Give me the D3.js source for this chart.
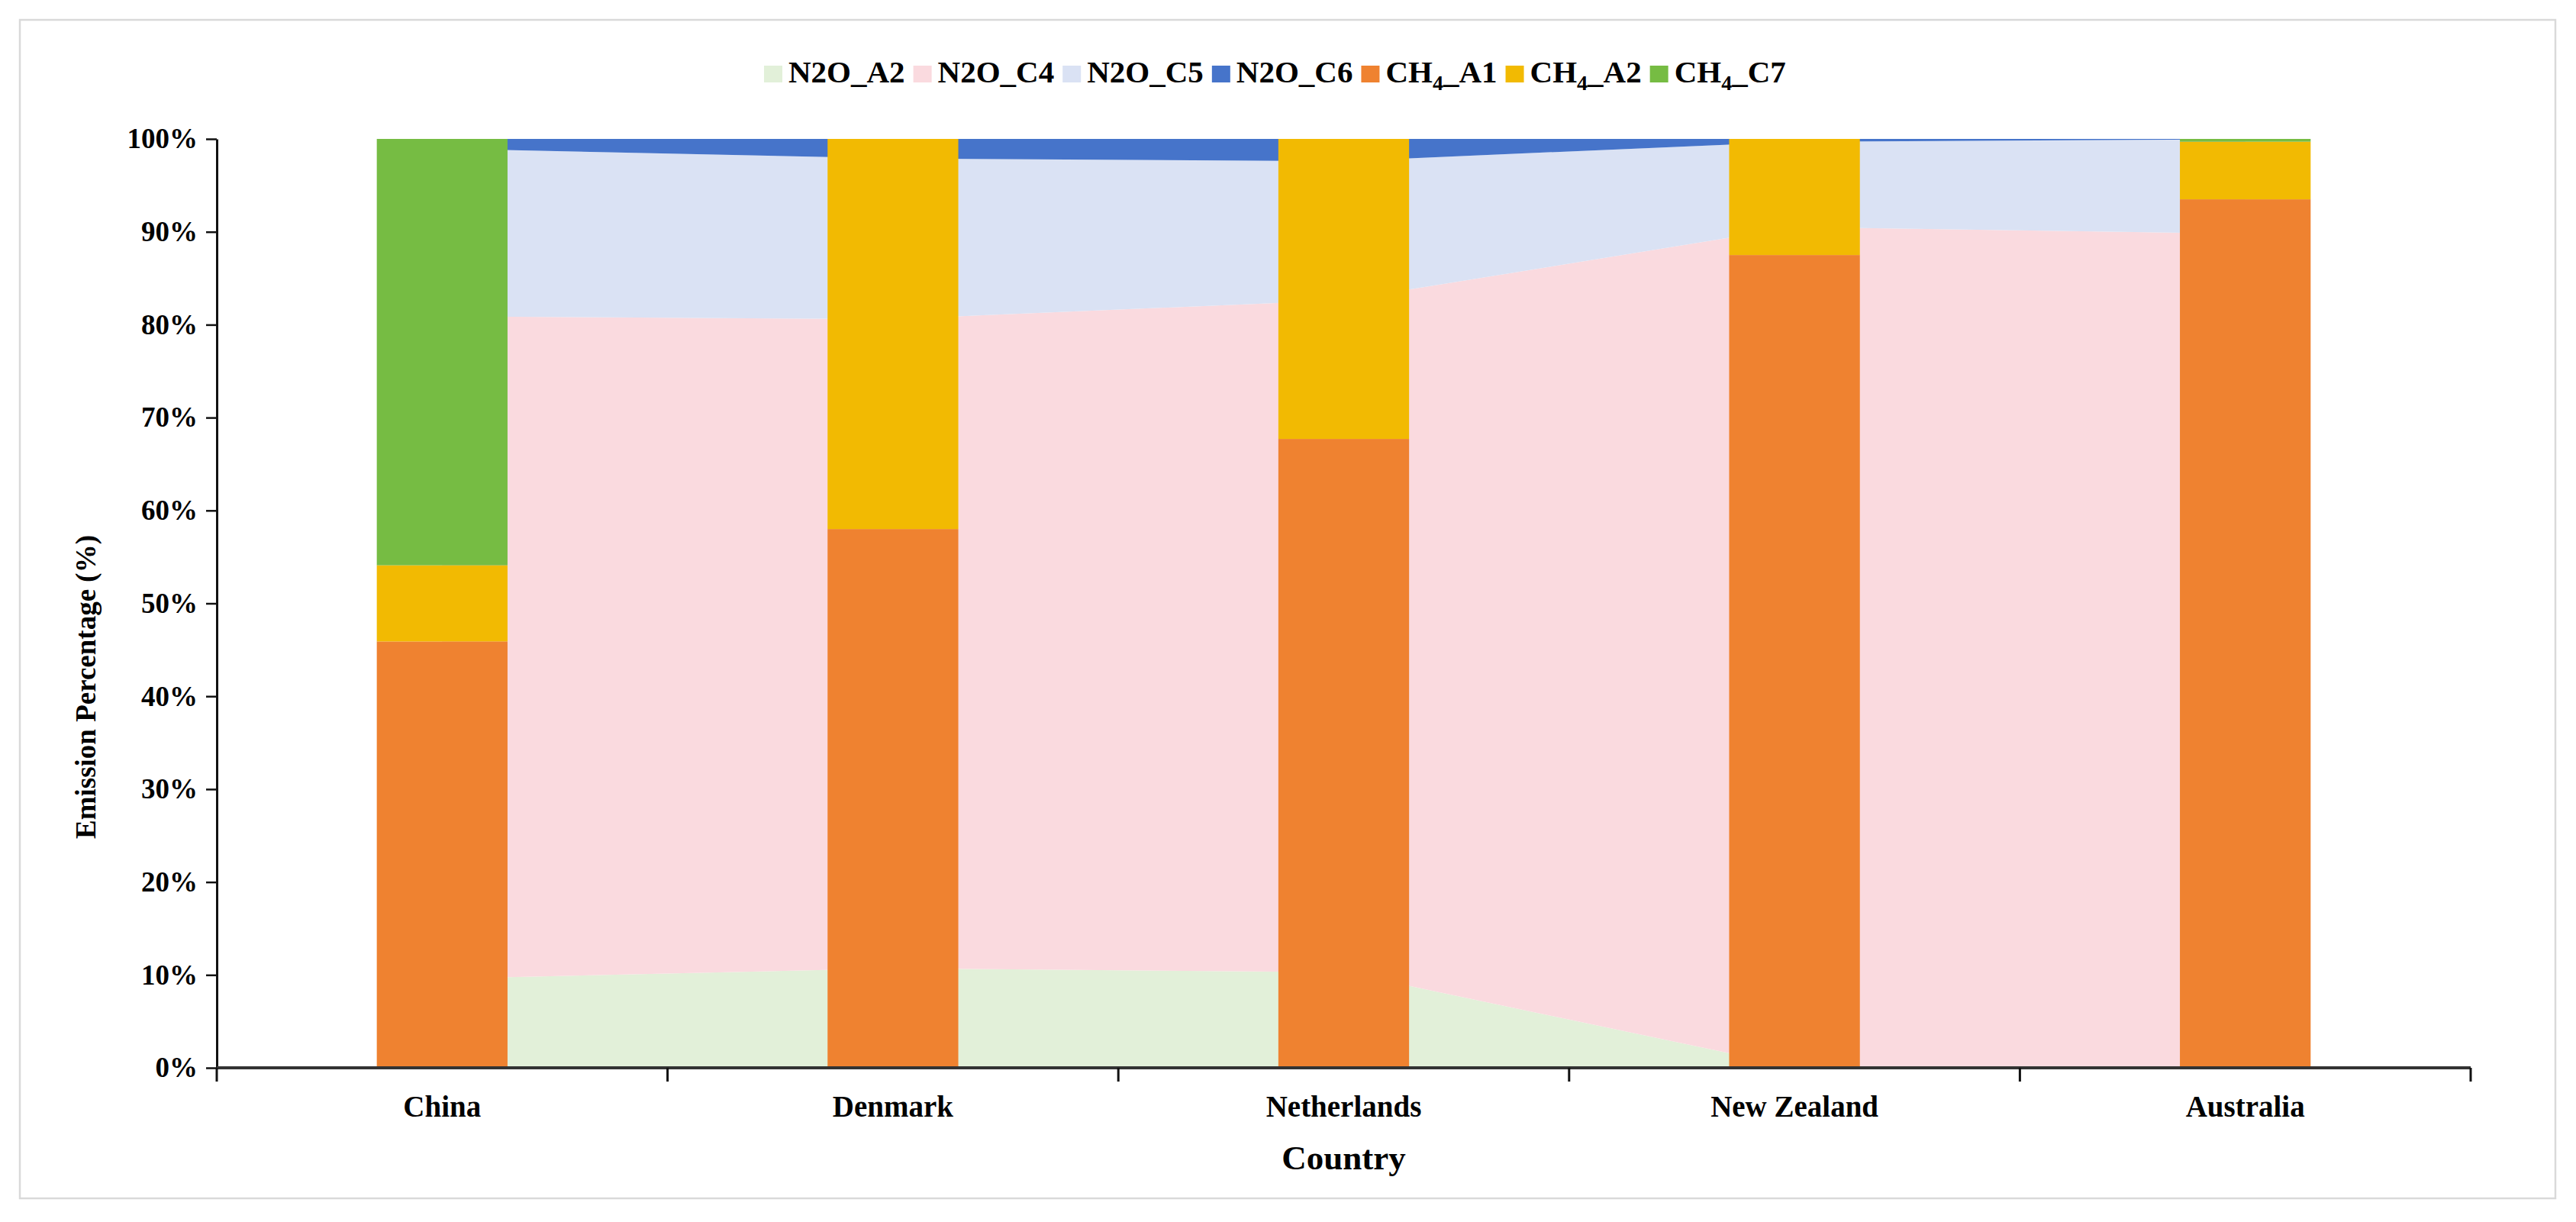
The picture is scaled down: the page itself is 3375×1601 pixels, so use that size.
<!DOCTYPE html>
<html>
<head>
<meta charset="utf-8">
<script src="https://cdn.jsdelivr.net/npm/d3@7"></script>
<style>
  body { margin: 0; background: #fff; }
  svg { display: block; }
  text { font-family: "Liberation Serif", "Times New Roman", serif; font-weight: bold; fill: #000; }
</style>
</head>
<body>
<svg id="chart"></svg>
<script>

// categories
var countries = ['China', 'Denmark', 'Netherlands', 'New Zealand', 'Australia'];

// N2O shares (area, percent of N2O)
var n2oA2 = [9.6, 10.7, 10.3, 0.1, 0];
var n2oC4 = [71.3, 69.9, 72.35, 90.4, 89.8];
var n2oC5 = [18.05, 17.3, 14.95, 9.2, 10.15];
var n2oC6 = [1.05, 2.1, 2.4, 0.3, 0.05];

// CH4 shares (stacked columns, percent of CH4)
var ch4A1 = [45.9, 58, 67.7, 87.5, 93.5];
var ch4A2 = [8.2, 42, 32.3, 12.5, 6.2];
var ch4C7 = [45.9, 0, 0, 0, 0.3];

var yTicks = [0, 10, 20, 30, 40, 50, 60, 70, 80, 90, 100];

var n2oKeys = ['N2O_A2', 'N2O_C4', 'N2O_C5', 'N2O_C6'];
var ch4Keys = ['CH4_A1', 'CH4_A2', 'CH4_C7'];

var colors = {
  'N2O_A2': '#E2F0D9',
  'N2O_C4': '#FADADF',
  'N2O_C5': '#DAE2F4',
  'N2O_C6': '#4674CA',
  'CH4_A1': '#EF8230',
  'CH4_A2': '#F2BA02',
  'CH4_C7': '#76BC43'
};

var width = 3375, height = 1601;
var plot = {l: 284, r: 3237, t: 182, b: 1399};

var svg = d3.select('#chart').attr('width', width).attr('height', height);

// outer frame
svg.append('rect')
  .attr('x', 26).attr('y', 26)
  .attr('width', 3322).attr('height', 1544)
  .attr('fill', 'none').attr('stroke', '#d9d9d9').attr('stroke-width', 2.5);

var x = d3.scaleBand().domain(countries).range([plot.l, plot.r]).paddingInner(0).paddingOuter(0);
var y = d3.scaleLinear().domain([0, 100]).range([plot.b, plot.t]);
var barW = x.bandwidth() * 0.29;

function center(c) { return x(c) + x.bandwidth() / 2; }

// rows for the stacks
var n2oRows = countries.map(function(c, i) {
  return {country: c, N2O_A2: n2oA2[i], N2O_C4: n2oC4[i], N2O_C5: n2oC5[i], N2O_C6: n2oC6[i]};
});
var ch4Rows = countries.map(function(c, i) {
  return {country: c, CH4_A1: ch4A1[i], CH4_A2: ch4A2[i], CH4_C7: ch4C7[i]};
});

var n2oStack = d3.stack().keys(n2oKeys)(n2oRows);
var ch4Stack = d3.stack().keys(ch4Keys)(ch4Rows);

var area = d3.area()
  .x(function(d) { return center(d.data.country); })
  .y0(function(d) { return y(d[0]); })
  .y1(function(d) { return y(d[1]); });

svg.append('g').selectAll('path')
  .data(n2oStack)
  .enter()
  .append('path')
  .attr('d', area)
  .attr('fill', function(d) { return colors[d.key]; });

// columns on top of the areas
svg.append('g').selectAll('g')
  .data(ch4Stack)
  .enter()
  .append('g')
  .attr('fill', function(d) { return colors[d.key]; })
  .selectAll('rect')
  .data(function(d) { return d; })
  .enter()
  .append('rect')
  .attr('x', function(d) { return center(d.data.country) - barW / 2; })
  .attr('width', barW)
  .attr('y', function(d) { return y(d[1]); })
  .attr('height', function(d) { return y(d[0]) - y(d[1]); });

// y axis
var yAxis = svg.append('g')
  .attr('transform', 'translate(' + plot.l + ',0)')
  .call(d3.axisLeft(y).tickValues(yTicks).tickSize(14).tickSizeOuter(0).tickPadding(11)
    .tickFormat(function(d) { return d + '%'; }));
yAxis.select('.domain').attr('stroke', '#111').attr('stroke-width', 3);
yAxis.selectAll('.tick line').attr('stroke', '#111').attr('stroke-width', 2.5);
yAxis.selectAll('.tick text').style('font-size', '37px').attr('fill', '#000');

// x axis, ticks between categories
var xAxis = svg.append('g')
  .attr('transform', 'translate(0,' + plot.b + ')');
xAxis.append('line')
  .attr('x1', plot.l).attr('x2', plot.r)
  .attr('stroke', '#333').attr('stroke-width', 4);
xAxis.selectAll('line.tk')
  .data(countries.concat(['end']))
  .enter()
  .append('line')
  .attr('class', 'tk')
  .attr('x1', function(d) { return d === 'end' ? plot.r : x(d); })
  .attr('x2', function(d) { return d === 'end' ? plot.r : x(d); })
  .attr('y1', 0).attr('y2', 18)
  .attr('stroke', '#111').attr('stroke-width', 3);
xAxis.selectAll('text')
  .data(countries)
  .enter()
  .append('text')
  .attr('x', function(d) { return center(d); })
  .attr('y', 64)
  .attr('text-anchor', 'middle')
  .style('font-size', '39px')
  .text(function(d) { return d; });

// axis titles
svg.append('text')
  .attr('x', (plot.l + plot.r) / 2).attr('y', 1532)
  .attr('text-anchor', 'middle')
  .style('font-size', '45px')
  .text('Country');

svg.append('text')
  .attr('transform', 'translate(125,900) rotate(-90)')
  .attr('text-anchor', 'middle')
  .style('font-size', '37px')
  .text('Emission Percentage (%)');

// legend
var legend = svg.append('g').attr('transform', 'translate(1001,0)');
var lx = 0;
n2oKeys.concat(ch4Keys).forEach(function(k) {
  legend.append('rect')
    .attr('x', lx).attr('y', 86)
    .attr('width', 24).attr('height', 22)
    .attr('fill', colors[k]);
  var t = legend.append('text')
    .attr('x', lx + 32).attr('y', 108)
    .style('font-size', '41px');
  if (k.indexOf('CH4') === 0) {
    t.append('tspan').text('CH');
    t.append('tspan').attr('dy', 10).style('font-size', '28px').text('4');
    t.append('tspan').attr('dy', -10).text(k.slice(3));
  } else {
    t.text(k);
  }
  lx += 32 + t.node().getComputedTextLength() + 11;
});

</script>
</body>
</html>
